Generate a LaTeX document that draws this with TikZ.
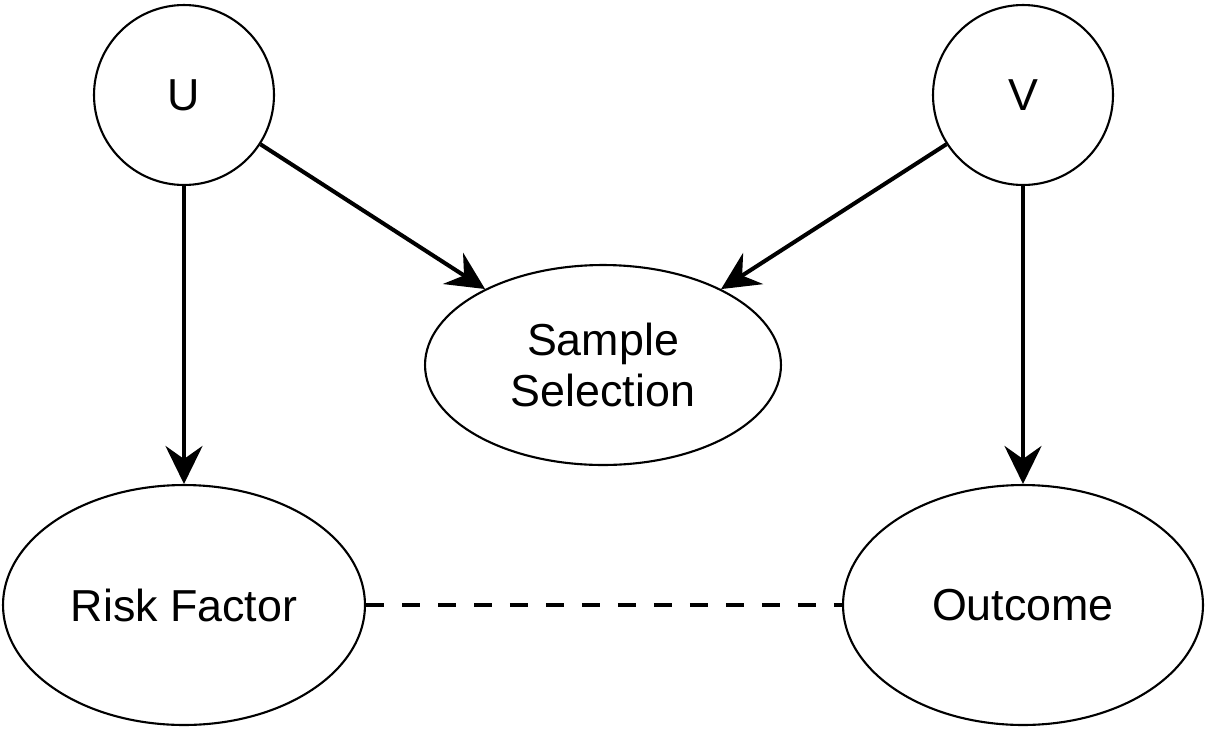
\documentclass[tikz,border=0pt]{standalone}
\usepackage{fontspec}
\setmainfont{Liberation Sans}
\usetikzlibrary{arrows.meta,shapes.geometric}

\begin{document}
\begin{tikzpicture}[x=0.02cm, y=-0.02cm,
    var/.style = {draw, line width=1.2pt, circle, minimum size=3.6cm, inner sep=0pt,
                  font=\fontsize{25.5}{29.5}\selectfont},
    outc/.style = {draw, line width=1.2pt, ellipse, inner sep=0pt, align=center,
                  font=\fontsize{25.5}{29.5}\selectfont},
    link/.style = {line width=2.3pt, -{Stealth[length=0.76cm, width=0.74cm, inset=0.26cm]}}
    ]
    \useasboundingbox (0,0) rectangle (1207,738);
    \node[var] (u) at (184,95) {U};
    \node[var] (v) at (1023,95) {V};
    \node[outc, minimum width=7.12cm, minimum height=4cm] (sel) at (603,365) {Sample\\Selection};
    \node[outc, minimum width=7.24cm, minimum height=4.8cm] (risk) at (184,605) {Risk Factor};
    \node[outc, minimum width=7.2cm, minimum height=4.8cm] (out) at (1023,605) {Outcome};

    \draw[link] (u) -- (risk);
    \draw[link] (v) -- (out);
    \draw[link] (u) -- (sel);
    \draw[link] (v) -- (sel);
    \draw[line width=2.3pt, dash pattern=on 0.36cm off 0.36cm] (risk) -- (out);
\end{tikzpicture}
\end{document}
